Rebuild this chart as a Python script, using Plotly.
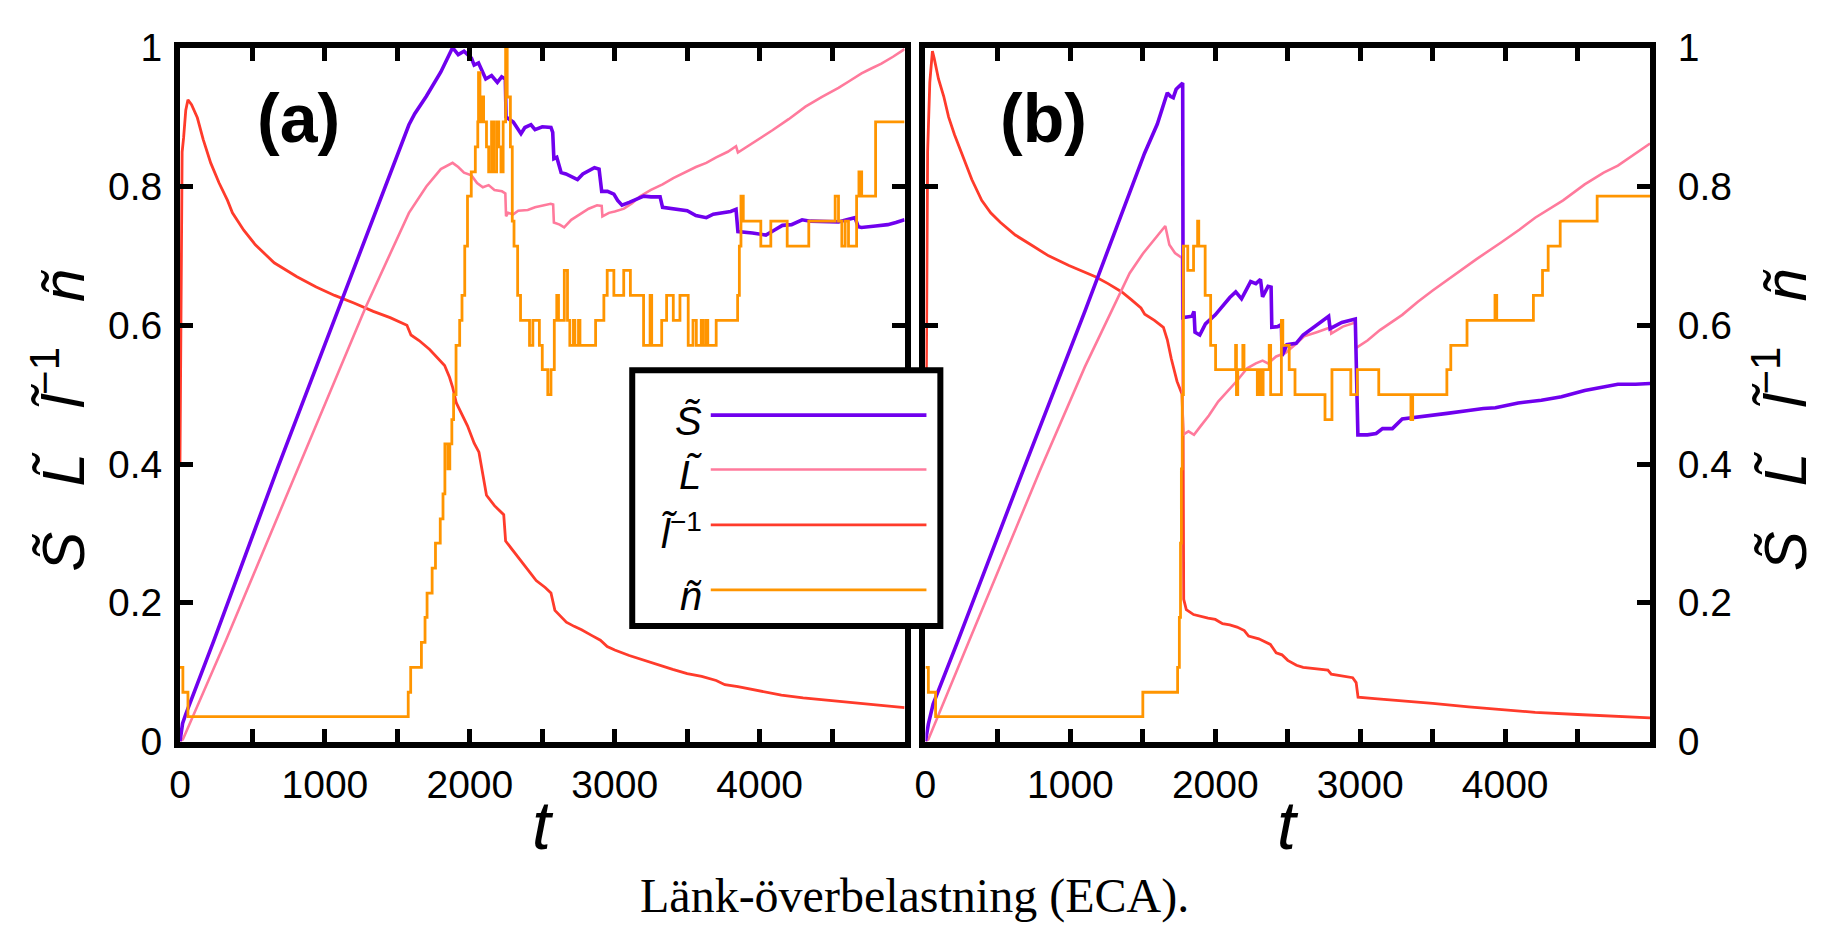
import plotly.graph_objects as go

W, H = 1824, 942

# ---------------- data ----------------
# Panel (a)
T_S_A = [0, 18, 41, 233, 677, 1121, 1580, 1620, 1700, 1800, 1850, 1881, 1920, 1960, 2011, 2030, 2060, 2090, 2110, 2150, 2190, 2220, 2245, 2250, 2300, 2353, 2380, 2422, 2450, 2500, 2560, 2572, 2580, 2600, 2630, 2663, 2700, 2743, 2780, 2820, 2860, 2892, 2910, 2950, 2994, 3020, 3050, 3100, 3150, 3200, 3250, 3313, 3330, 3400, 3450, 3500, 3560, 3600, 3632, 3680, 3746, 3800, 3837, 3850, 3950, 4043, 4100, 4157, 4220, 4293, 4350, 4450, 4544, 4600, 4658, 4680, 4703, 4800, 4884, 4940, 5000]
S_A = [0.0, 0.026, 0.040, 0.145, 0.396, 0.638, 0.889, 0.905, 0.930, 0.965, 0.985, 1.0, 0.990, 0.995, 0.985, 0.975, 0.978, 0.965, 0.955, 0.960, 0.950, 0.958, 0.955, 0.900, 0.893, 0.876, 0.885, 0.889, 0.882, 0.886, 0.885, 0.878, 0.840, 0.842, 0.820, 0.818, 0.814, 0.810, 0.818, 0.823, 0.827, 0.825, 0.793, 0.793, 0.789, 0.780, 0.773, 0.777, 0.782, 0.786, 0.785, 0.785, 0.770, 0.768, 0.766, 0.765, 0.758, 0.756, 0.755, 0.760, 0.762, 0.764, 0.767, 0.735, 0.733, 0.730, 0.737, 0.744, 0.745, 0.752, 0.750, 0.749, 0.749, 0.752, 0.755, 0.742, 0.741, 0.743, 0.745, 0.748, 0.752]

T_L_A = [0, 20, 315, 1279, 1580, 1700, 1800, 1881, 1920, 1960, 2011, 2050, 2090, 2130, 2170, 2222, 2245, 2250, 2264, 2300, 2334, 2400, 2450, 2500, 2558, 2575, 2580, 2620, 2651, 2700, 2760, 2820, 2878, 2910, 2915, 2960, 3000, 3064, 3120, 3175, 3250, 3330, 3404, 3500, 3560, 3632, 3700, 3780, 3837, 3850, 3950, 4020, 4088, 4200, 4316, 4430, 4544, 4620, 4703, 4770, 4840, 4920, 5000]
L_A = [0.0, 0.003, 0.145, 0.625, 0.762, 0.800, 0.825, 0.834, 0.828, 0.820, 0.816, 0.805, 0.799, 0.802, 0.795, 0.793, 0.790, 0.757, 0.762, 0.760, 0.765, 0.766, 0.770, 0.772, 0.775, 0.774, 0.748, 0.745, 0.741, 0.752, 0.760, 0.768, 0.773, 0.772, 0.757, 0.762, 0.764, 0.768, 0.776, 0.786, 0.795, 0.803, 0.812, 0.822, 0.828, 0.834, 0.842, 0.850, 0.858, 0.849, 0.862, 0.872, 0.881, 0.897, 0.915, 0.929, 0.942, 0.952, 0.963, 0.970, 0.977, 0.987, 0.998]

T_R_A = [0, 15, 25, 40, 55, 80, 120, 160, 212, 270, 328, 362, 440, 520, 650, 807, 940, 1067, 1200, 1334, 1450, 1566, 1594, 1650, 1723, 1780, 1826, 1860, 1881, 1907, 1950, 1984, 2030, 2063, 2090, 2115, 2170, 2234, 2247, 2300, 2352, 2400, 2458, 2520, 2560, 2587, 2630, 2666, 2720, 2771, 2840, 2901, 2948, 3000, 3100, 3221, 3300, 3400, 3500, 3600, 3700, 3760, 3850, 3950, 4050, 4150, 4300, 4450, 4600, 4750, 4900, 5000]
R_A = [0.40, 0.85, 0.87, 0.91, 0.925, 0.918, 0.899, 0.868, 0.834, 0.805, 0.780, 0.762, 0.737, 0.716, 0.690, 0.670, 0.655, 0.643, 0.632, 0.620, 0.611, 0.600, 0.586, 0.578, 0.565, 0.553, 0.542, 0.525, 0.511, 0.488, 0.470, 0.455, 0.430, 0.417, 0.385, 0.355, 0.340, 0.327, 0.289, 0.275, 0.260, 0.247, 0.232, 0.222, 0.214, 0.189, 0.180, 0.172, 0.166, 0.161, 0.153, 0.146, 0.137, 0.132, 0.124, 0.116, 0.110, 0.104, 0.098, 0.094, 0.088, 0.082, 0.079, 0.075, 0.071, 0.067, 0.063, 0.060, 0.057, 0.054, 0.051, 0.049]

T_N_A = [0, 20, 55, 1575, 1592, 1666, 1691, 1705, 1740, 1763, 1796, 1815, 1828, 1849, 1862, 1876, 1888, 1905, 1930, 1946, 1965, 1984, 2010, 2038, 2055, 2060, 2070, 2085, 2095, 2115, 2130, 2150, 2165, 2185, 2200, 2215, 2230, 2247, 2258, 2280, 2293, 2305, 2330, 2350, 2412, 2435, 2480, 2500, 2538, 2560, 2583, 2600, 2612, 2652, 2674, 2690, 2715, 2725, 2750, 2760, 2868, 2925, 2948, 2994, 3062, 3108, 3199, 3244, 3255, 3324, 3358, 3404, 3450, 3507, 3540, 3563, 3597, 3610, 3630, 3642, 3700, 3848, 3860, 3871, 3887, 4008, 4077, 4190, 4339, 4521, 4544, 4567, 4590, 4613, 4669, 4685, 4704, 4800, 5000]
N_A = [0.107, 0.071, 0.036, 0.071, 0.107, 0.143, 0.179, 0.214, 0.250, 0.286, 0.321, 0.357, 0.429, 0.393, 0.429, 0.464, 0.500, 0.571, 0.607, 0.643, 0.714, 0.786, 0.821, 0.857, 0.893, 0.964, 0.893, 0.929, 0.893, 0.857, 0.821, 0.893, 0.821, 0.893, 0.857, 0.821, 0.893, 1.0, 0.929, 0.857, 0.750, 0.714, 0.643, 0.607, 0.571, 0.607, 0.571, 0.536, 0.500, 0.536, 0.607, 0.643, 0.607, 0.679, 0.607, 0.571, 0.607, 0.571, 0.607, 0.571, 0.607, 0.643, 0.679, 0.643, 0.679, 0.643, 0.571, 0.643, 0.571, 0.607, 0.643, 0.607, 0.643, 0.571, 0.607, 0.571, 0.607, 0.571, 0.607, 0.571, 0.607, 0.643, 0.714, 0.786, 0.750, 0.714, 0.750, 0.714, 0.750, 0.786, 0.750, 0.714, 0.750, 0.714, 0.786, 0.821, 0.786, 0.893, 0.893]

# Panel (b)
T_S_B = [0, 20, 53, 224, 676, 1100, 1512, 1600, 1669, 1690, 1710, 1730, 1749, 1775, 1778, 1840, 1853, 1860, 1893, 1932, 2000, 2037, 2100, 2141, 2181, 2244, 2280, 2312, 2326, 2364, 2385, 2390, 2430, 2456, 2461, 2494, 2558, 2606, 2665, 2720, 2782, 2792, 2808, 2873, 2966, 2984, 3050, 3110, 3154, 3222, 3290, 3358, 3500, 3600, 3748, 3850, 3933, 4090, 4250, 4389, 4549, 4650, 4778, 4900, 5000]
S_B = [0.0, 0.025, 0.054, 0.145, 0.392, 0.620, 0.848, 0.890, 0.935, 0.930, 0.928, 0.940, 0.944, 0.949, 0.611, 0.613, 0.620, 0.590, 0.586, 0.602, 0.615, 0.625, 0.640, 0.648, 0.638, 0.663, 0.660, 0.666, 0.641, 0.656, 0.655, 0.597, 0.598, 0.601, 0.556, 0.572, 0.574, 0.586, 0.595, 0.603, 0.613, 0.595, 0.597, 0.604, 0.609, 0.442, 0.442, 0.444, 0.451, 0.451, 0.465, 0.467, 0.470, 0.473, 0.477, 0.480, 0.481, 0.488, 0.492, 0.497, 0.506, 0.510, 0.515, 0.515, 0.516]

T_L_B = [0, 20, 301, 793, 1100, 1409, 1500, 1566, 1620, 1655, 1683, 1722, 1770, 1776, 1815, 1853, 1900, 1956, 2020, 2089, 2150, 2220, 2280, 2326, 2364, 2420, 2483, 2550, 2613, 2700, 2796, 2800, 2880, 2966, 2970, 3050, 3136, 3290, 3398, 3500, 3632, 3800, 3977, 4100, 4207, 4400, 4549, 4680, 4778, 4880, 5000]
L_B = [0.0, 0.003, 0.145, 0.392, 0.540, 0.675, 0.703, 0.720, 0.735, 0.743, 0.716, 0.704, 0.697, 0.442, 0.447, 0.442, 0.455, 0.470, 0.490, 0.506, 0.520, 0.538, 0.545, 0.549, 0.545, 0.555, 0.560, 0.572, 0.584, 0.590, 0.597, 0.588, 0.598, 0.604, 0.567, 0.578, 0.593, 0.615, 0.634, 0.650, 0.670, 0.695, 0.720, 0.738, 0.755, 0.780, 0.803, 0.820, 0.830, 0.845, 0.862]

T_R_B = [0, 15, 30, 48, 60, 90, 126, 160, 200, 257, 320, 388, 450, 518, 620, 728, 850, 990, 1080, 1173, 1260, 1355, 1420, 1487, 1513, 1580, 1642, 1669, 1696, 1736, 1770, 1778, 1782, 1800, 1850, 1900, 1950, 2000, 2050, 2100, 2150, 2200, 2230, 2300, 2380, 2420, 2460, 2500, 2560, 2606, 2700, 2777, 2800, 2948, 2972, 2985, 3100, 3290, 3500, 3748, 4000, 4207, 4500, 4750, 5000]
R_B = [0.30, 0.85, 0.95, 0.995, 0.985, 0.955, 0.930, 0.900, 0.875, 0.844, 0.810, 0.780, 0.762, 0.748, 0.730, 0.716, 0.700, 0.686, 0.678, 0.670, 0.660, 0.648, 0.637, 0.625, 0.616, 0.607, 0.597, 0.579, 0.552, 0.519, 0.501, 0.450, 0.205, 0.190, 0.183, 0.180, 0.178, 0.176, 0.170, 0.168, 0.165, 0.160, 0.152, 0.148, 0.140, 0.128, 0.125, 0.117, 0.110, 0.107, 0.105, 0.103, 0.097, 0.092, 0.085, 0.064, 0.062, 0.059, 0.055, 0.050, 0.046, 0.042, 0.039, 0.036, 0.034]

T_N_B = [0, 20, 70, 1500, 1740, 1752, 1760, 1766, 1772, 1780, 1810, 1850, 1878, 1886, 1930, 1968, 2002, 2140, 2146, 2155, 2190, 2198, 2290, 2305, 2318, 2330, 2372, 2382, 2456, 2466, 2510, 2550, 2757, 2805, 2935, 2980, 3128, 3350, 3362, 3598, 3625, 3737, 3930, 3942, 4195, 4258, 4297, 4380, 4635, 5000]
N_B = [0.107, 0.071, 0.036, 0.071, 0.107, 0.179, 0.286, 0.393, 0.500, 0.714, 0.679, 0.714, 0.750, 0.714, 0.643, 0.571, 0.536, 0.571, 0.500, 0.536, 0.571, 0.536, 0.500, 0.536, 0.500, 0.536, 0.571, 0.500, 0.607, 0.571, 0.536, 0.500, 0.464, 0.536, 0.500, 0.536, 0.500, 0.464, 0.500, 0.536, 0.571, 0.607, 0.643, 0.607, 0.643, 0.679, 0.714, 0.750, 0.786, 0.786]

X_TICK_VALS = [0, 1000, 2000, 3000, 4000]
X_TICK_TEXT = ["0", "1000", "2000", "3000", "4000"]
X_MINOR_STEP = 500
Y_TICK_VALS = [0, 0.2, 0.4, 0.6, 0.8, 1.0]
Y_TICK_TEXT = ["0", "0.2", "0.4", "0.6", "0.8", "1"]

SERIES_LABELS = ["<i>S\u0303</i>", "<i>L\u0303</i>", "<i>l\u0303</i><sup>\u22121</sup>", "<i>\u00f1</i>"]
COLORS = ["#7000ee", "#ff7a9c", "#ff3b2b", "#ff9500"]
WIDTHS = [3.6, 2.6, 2.8, 2.8]

CAPTION = "Länk-överbelastning (ECA)."
GAP = "\u2002\u2005"
Y_TITLE = ("<i>S\u0303</i>" + GAP + "<i>L\u0303</i>" + GAP + "<i>l\u0303</i><sup>\u22121</sup>" + GAP
           + "<i>\u00f1</i>")

# ---------------- figure ----------------
fig = go.Figure()

panel_a = [(T_S_A, S_A, "linear"), (T_L_A, L_A, "linear"), (T_R_A, R_A, "linear"), (T_N_A, N_A, "hv")]
panel_b = [(T_S_B, S_B, "linear"), (T_L_B, L_B, "linear"), (T_R_B, R_B, "linear"), (T_N_B, N_B, "hv")]

order = [2, 1, 0, 3]
for i in order:
    t, v, shape = panel_a[i]
    fig.add_trace(go.Scatter(x=t, y=v, mode="lines", line=dict(color=COLORS[i], width=WIDTHS[i], shape=shape),
                             showlegend=False, xaxis="x", yaxis="y", hoverinfo="skip"))
for i in order:
    t, v, shape = panel_b[i]
    fig.add_trace(go.Scatter(x=t, y=v, mode="lines", line=dict(color=COLORS[i], width=WIDTHS[i], shape=shape),
                             showlegend=False, xaxis="x2", yaxis="y2", hoverinfo="skip"))

def px(x):
    return x / W

def py(y):
    return 1 - y / H

tick_font = dict(family="Liberation Sans, Arial, sans-serif", size=39, color="black")
common_x = dict(range=[0, 5000], showgrid=False, zeroline=False, showline=True, linewidth=6, linecolor="black",
                mirror="ticks", ticks="inside", ticklen=13, tickwidth=5, tickcolor="black",
                tickmode="array", tickvals=X_TICK_VALS, ticktext=X_TICK_TEXT, tickfont=tick_font,
                ticklabelstandoff=4,
                minor=dict(dtick=X_MINOR_STEP, tick0=0, ticks="inside", ticklen=13, tickwidth=5,
                           tickcolor="black", showgrid=False))
common_y = dict(range=[0, 1], showgrid=False, zeroline=False, showline=True, linewidth=6, linecolor="black",
                mirror="ticks", ticks="inside", ticklen=13, tickwidth=5, tickcolor="black",
                tickmode="array", tickvals=Y_TICK_VALS, ticktext=Y_TICK_TEXT, tickfont=tick_font)

ydom = [py(755), py(28)]
fig.update_layout(
    width=W, height=H,
    margin=dict(l=0, r=0, t=0, b=0),
    paper_bgcolor="white", plot_bgcolor="white",
    showlegend=False,
    xaxis=dict(domain=[px(170), px(899)], anchor="y", **common_x),
    yaxis=dict(domain=ydom, anchor="x", side="left", ticklabelstandoff=4, **common_y),
    xaxis2=dict(domain=[px(920), px(1649)], anchor="y2", **common_x),
    yaxis2=dict(domain=ydom, anchor="x2", side="right", ticklabelstandoff=14, **common_y),
)

ann = []
title_font = dict(family="Liberation Sans, Arial, sans-serif", size=60, color="black")
# x titles
for cx in (535, 1285):
    ann.append(dict(text="<i>t</i>", x=px(cx), y=py(842), xref="paper", yref="paper",
                    xanchor="center", yanchor="middle", showarrow=False,
                    font=dict(family="Liberation Sans, Arial, sans-serif", size=68, color="black")))
# y titles
for cx in (48, 1780):
    ann.append(dict(text=Y_TITLE, x=px(cx), y=py(418), xref="paper", yref="paper", textangle=-90,
                    xanchor="center", yanchor="middle", showarrow=False, font=title_font))
# panel labels
for lab, cx in (("(a)", 289), ("(b)", 1039)):
    ann.append(dict(text="<b>" + lab + "</b>", x=px(cx), y=py(102), xref="paper", yref="paper",
                    xanchor="center", yanchor="middle", showarrow=False,
                    font=dict(family="Liberation Sans, Arial, sans-serif", size=68, color="black")))
# caption
ann.append(dict(text=CAPTION, x=px(909), y=py(917), xref="paper", yref="paper", xanchor="center",
                yanchor="middle", showarrow=False,
                font=dict(family="Liberation Serif, Times New Roman, serif", size=48, color="black")))

# custom legend
shapes = [dict(type="rect", xref="paper", yref="paper", x0=px(625), x1=px(935), y0=py(634), y1=py(366),
               line=dict(color="black", width=6), fillcolor="white", layer="above")]
rows = [413, 470, 528, 596]
for lab, col, wd, ry in zip(SERIES_LABELS, COLORS, WIDTHS, rows):
    shapes.append(dict(type="line", xref="paper", yref="paper", x0=px(704), x1=px(921), y0=py(ry), y1=py(ry),
                       line=dict(color=col, width=wd), layer="above"))
    ann.append(dict(text=lab, x=px(697), y=py(ry + 6), xref="paper", yref="paper", xanchor="right",
                    yanchor="middle", showarrow=False,
                    font=dict(family="Liberation Sans, Arial, sans-serif", size=40, color="black")))

fig.update_layout(annotations=ann, shapes=shapes)
fig.write_html("out.html")
